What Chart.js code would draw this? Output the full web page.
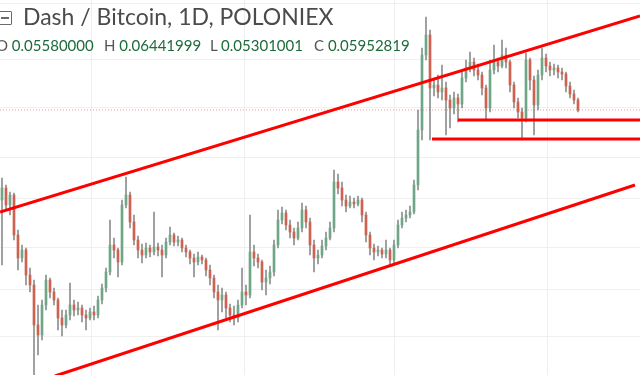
<!DOCTYPE html>
<html>
<head>
<meta charset="utf-8">
<script src="https://cdn.jsdelivr.net/npm/chart.js@4.4.1/dist/chart.umd.min.js"></script>
<style>
  html, body { margin: 0; padding: 0; background: #fff; }
  #wrap { position: relative; width: 640px; height: 375px; overflow: hidden; }
  #chart { position: absolute; left: 0; top: 0; }
  .title { position: absolute; left: 23px; top: 2px; font: 23px Lato, sans-serif; color: #4b4b4b; white-space: nowrap; }
  .icon { position: absolute; left: -2px; top: 11px; width: 12px; height: 12px; border: 1.5px solid #6a6a6a; border-radius: 1px; }
  .icon::after { content: ""; position: absolute; left: 2px; right: 2px; top: 5px; height: 1.5px; background: #6a6a6a; }
  .ohlc { position: absolute; top: 36px; font: 15px Lato, sans-serif; white-space: nowrap; }
  .ohlc .k { color: #555; }
  .ohlc .v { color: #1d6b3b; }
</style>
</head>
<body>
<div id="wrap">
  <canvas id="chart" width="640" height="375"></canvas>
  <div class="icon"></div>
  <div class="title">Dash / Bitcoin, 1D, POLONIEX</div>
</div>
<script>
// daily candles, BTC
const open = [0.0506,0.0518,0.0501,0.0511,0.0471,0.0448,0.0456,0.0431,0.0421,0.0381,
  0.0371,0.0401,0.0426,0.0414,0.0406,0.0388,0.0381,0.0391,0.0401,0.0396,
  0.0398,0.0391,0.0388,0.0394,0.0391,0.0406,0.0418,0.0434,0.0461,0.0456,
  0.0444,0.0501,0.0511,0.0484,0.0466,0.0456,0.0451,0.0458,0.0454,0.0459,
  0.0456,0.0451,0.0464,0.0471,0.0464,0.0466,0.0458,0.0454,0.0448,0.0444,
  0.0449,0.0446,0.0436,0.0428,0.0414,0.0406,0.0411,0.0398,0.0391,0.0388,
  0.0401,0.0414,0.0411,0.0454,0.0448,0.0444,0.0424,0.0428,0.0434,0.0461,
  0.0486,0.0493,0.0481,0.0474,0.0468,0.0478,0.0496,0.0484,0.0461,0.0448,
  0.0451,0.0460,0.0468,0.0478,0.0524,0.0518,0.0506,0.0500,0.0504,0.0502,
  0.0506,0.0491,0.0471,0.0458,0.0454,0.0456,0.0452,0.0456,0.0446,0.0461,
  0.0481,0.0488,0.0491,0.0494,0.0521,0.0576,0.0651,0.0671,0.0618,0.0621,
  0.0614,0.0618,0.0606,0.0598,0.0608,0.0602,0.0628,0.0638,0.0644,0.0636,
  0.0631,0.0618,0.0598,0.0636,0.0644,0.0640,0.0651,0.0644,0.0621,0.0604,
  0.0594,0.0588,0.0646,0.0626,0.0601,0.0631,0.0648,0.0640,0.0636,0.0638,
  0.0634,0.0632,0.0620,0.0612,0.0606];
const high = [0.0528,0.0521,0.0514,0.0513,0.0476,0.0461,0.0458,0.0438,0.0426,0.0401,
  0.0406,0.0431,0.0428,0.0418,0.0408,0.0396,0.0396,0.0423,0.0406,0.0404,
  0.0401,0.0396,0.0398,0.0400,0.0410,0.0422,0.0438,0.0486,0.0468,0.0458,
  0.0506,0.0529,0.0514,0.0491,0.0470,0.0462,0.0463,0.0461,0.0494,0.0463,
  0.0461,0.0468,0.0479,0.0473,0.0470,0.0468,0.0461,0.0456,0.0452,0.0454,
  0.0451,0.0448,0.0441,0.0431,0.0421,0.0418,0.0414,0.0402,0.0400,0.0406,
  0.0438,0.0421,0.0491,0.0461,0.0452,0.0446,0.0436,0.0440,0.0466,0.0496,
  0.0499,0.0496,0.0486,0.0478,0.0484,0.0503,0.0500,0.0488,0.0466,0.0456,
  0.0466,0.0474,0.0484,0.0536,0.0532,0.0524,0.0511,0.0510,0.0508,0.0510,
  0.0508,0.0494,0.0474,0.0462,0.0460,0.0458,0.0466,0.0458,0.0466,0.0486,
  0.0494,0.0496,0.0500,0.0526,0.0596,0.0658,0.0689,0.0676,0.0628,0.0631,
  0.0641,0.0624,0.0611,0.0614,0.0612,0.0634,0.0646,0.0654,0.0648,0.0642,
  0.0634,0.0621,0.0646,0.0661,0.0648,0.0666,0.0658,0.0646,0.0624,0.0608,
  0.0598,0.0653,0.0648,0.0630,0.0636,0.0658,0.0652,0.0644,0.0642,0.0641,
  0.0638,0.0634,0.0624,0.0616,0.0608];
const low = [0.0441,0.0496,0.0491,0.0466,0.0436,0.0444,0.0421,0.0414,0.0331,0.0351,
  0.0366,0.0396,0.0408,0.0401,0.0376,0.0370,0.0378,0.0386,0.0390,0.0391,
  0.0384,0.0376,0.0386,0.0386,0.0388,0.0402,0.0414,0.0431,0.0448,0.0429,
  0.0441,0.0498,0.0478,0.0461,0.0448,0.0443,0.0448,0.0449,0.0451,0.0450,
  0.0429,0.0448,0.0461,0.0460,0.0460,0.0454,0.0449,0.0442,0.0429,0.0441,
  0.0442,0.0430,0.0421,0.0408,0.0376,0.0394,0.0388,0.0384,0.0381,0.0384,
  0.0398,0.0401,0.0408,0.0440,0.0438,0.0416,0.0411,0.0422,0.0430,0.0458,
  0.0482,0.0476,0.0468,0.0461,0.0466,0.0474,0.0478,0.0451,0.0434,0.0442,
  0.0448,0.0456,0.0466,0.0474,0.0512,0.0500,0.0494,0.0498,0.0498,0.0500,
  0.0484,0.0464,0.0451,0.0446,0.0450,0.0448,0.0448,0.0441,0.0443,0.0458,
  0.0478,0.0484,0.0488,0.0492,0.0516,0.0566,0.0646,0.0566,0.0610,0.0608,
  0.0606,0.0571,0.0578,0.0592,0.0584,0.0598,0.0624,0.0634,0.0630,0.0626,
  0.0611,0.0586,0.0594,0.0632,0.0634,0.0638,0.0638,0.0614,0.0598,0.0588,
  0.0566,0.0584,0.0616,0.0571,0.0596,0.0626,0.0634,0.0630,0.0631,0.0628,
  0.0626,0.0614,0.0608,0.0602,0.0594];
const close = [0.0518,0.0501,0.0511,0.0471,0.0448,0.0456,0.0431,0.0421,0.0381,0.0371,
  0.0401,0.0426,0.0414,0.0406,0.0388,0.0381,0.0391,0.0401,0.0396,0.0398,
  0.0391,0.0388,0.0394,0.0391,0.0406,0.0418,0.0434,0.0461,0.0456,0.0444,
  0.0501,0.0511,0.0484,0.0466,0.0456,0.0451,0.0458,0.0454,0.0459,0.0456,
  0.0451,0.0464,0.0471,0.0464,0.0466,0.0458,0.0454,0.0448,0.0444,0.0449,
  0.0446,0.0436,0.0428,0.0414,0.0406,0.0411,0.0398,0.0391,0.0388,0.0401,
  0.0414,0.0411,0.0454,0.0448,0.0444,0.0424,0.0428,0.0434,0.0461,0.0486,
  0.0493,0.0481,0.0474,0.0468,0.0478,0.0496,0.0484,0.0461,0.0448,0.0451,
  0.0460,0.0468,0.0478,0.0524,0.0518,0.0506,0.0500,0.0504,0.0502,0.0506,
  0.0491,0.0471,0.0458,0.0454,0.0456,0.0452,0.0456,0.0446,0.0461,0.0481,
  0.0488,0.0491,0.0494,0.0521,0.0576,0.0651,0.0671,0.0618,0.0621,0.0614,
  0.0618,0.0606,0.0598,0.0608,0.0602,0.0628,0.0638,0.0644,0.0636,0.0631,
  0.0618,0.0598,0.0636,0.0644,0.0640,0.0651,0.0644,0.0621,0.0604,0.0594,
  0.0588,0.0646,0.0626,0.0601,0.0631,0.0648,0.0640,0.0636,0.0638,0.0634,
  0.0632,0.0620,0.0612,0.0606,0.0596];

// drawn trend lines: [day index, price]
const channelTop = [[-0.5, 0.0494], [159.5, 0.0690]];
const channelBottom = [[13.25, 0.0330], [158.25, 0.0521]];
const supportHigh = [[114, 0.0586], [159.5, 0.0586]];
const supportLow = [[107.5, 0.0567], [159.5, 0.0567]];

// grid
const xGrid = [22.25, 60.5, 98, 136.25];
const yGrid = [0.0702, 0.0647, 0.0598, 0.0548, 0.0508, 0.0458, 0.0417, 0.0370];

const ohlcLabels = ["O", "H", "L", "C"];
const ohlcValues = ["0.05580000", "0.06441999", "0.05301001", "0.05952819"];

const UP = "#6fa688";
const DOWN = "#cf6150";
const WICK = "#8d8f8e";

const wrap = document.getElementById("wrap");
const labelX = [-4, 104, 210, 314];
ohlcLabels.forEach((k, i) => {
  const d = document.createElement("div");
  d.className = "ohlc";
  d.style.left = labelX[i] + "px";
  d.innerHTML = '<span class="k">' + k + '</span> <span class="v">' + ohlcValues[i] + "</span>";
  wrap.appendChild(d);
});

const colors = close.map((c, i) => (c >= open[i] ? UP : DOWN));
const toPts = (arr) => arr.map((p) => ({ x: p[0], y: p[1] }));
const last = close[close.length - 1];

const redLine = (pts) => ({
  type: "line",
  data: toPts(pts),
  borderColor: "#ff0000",
  borderWidth: 3,
  pointRadius: 0,
  order: 0,
});

new Chart(document.getElementById("chart"), {
  type: "bar",
  data: {
    datasets: [
      redLine(channelTop),
      redLine(channelBottom),
      redLine(supportHigh),
      redLine(supportLow),
      {
        type: "line",
        data: [{ x: -0.5, y: last }, { x: 159.5, y: last }],
        borderColor: "rgba(215,84,66,0.55)",
        borderWidth: 1,
        borderDash: [1, 2],
        pointRadius: 0,
        order: 1,
      },
      {
        data: open.map((o, i) => ({ x: i, y: [o, close[i]] })),
        backgroundColor: colors,
        barThickness: 2,
        grouped: false,
        order: 2,
      },
      {
        data: low.map((l, i) => ({ x: i, y: [l, high[i]] })),
        backgroundColor: WICK,
        barThickness: 1,
        grouped: false,
        order: 3,
      },
    ],
  },
  options: {
    responsive: false,
    animation: false,
    events: [],
    layout: { padding: 0 },
    plugins: { legend: { display: false }, tooltip: { enabled: false } },
    scales: {
      x: {
        type: "linear",
        offset: false,
        min: -0.5,
        max: 159.5,
        grid: { color: "#efefef", drawTicks: false, offset: false },
        border: { display: false },
        ticks: { display: false },
        afterBuildTicks: (s) => { s.ticks = xGrid.map((v) => ({ value: v })); },
      },
      y: {
        min: 0.0331,
        max: 0.0706,
        grid: { color: "#efefef", drawTicks: false },
        border: { display: false },
        ticks: { display: false },
        afterBuildTicks: (s) => { s.ticks = yGrid.map((v) => ({ value: v })); },
      },
    },
  },
});
</script>
</body>
</html>
